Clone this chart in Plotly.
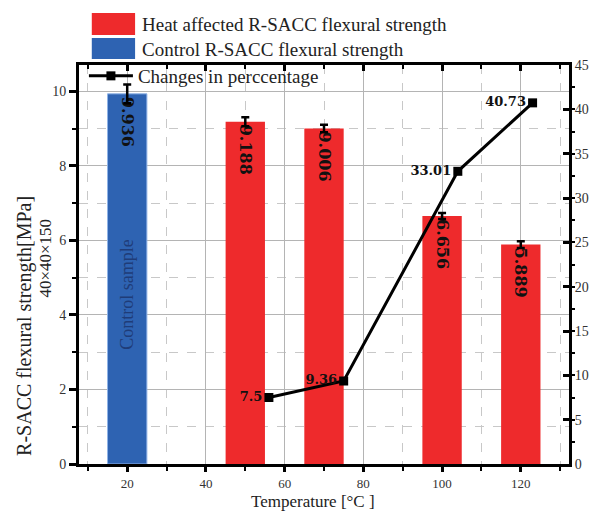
import plotly.graph_objects as go

# ---------------- data ----------------
control_temp = [20]
control_strength = [9.936]
control_err = [0.25]

heat_temp = [50, 70, 100, 120]
heat_strength = [9.188, 9.006, 6.656, 5.889]
heat_err = [0.12, 0.10, 0.08, 0.09]

pct_temp = [56, 75, 104, 123]
pct_change = [7.5, 9.36, 33.01, 40.73]
pct_labels = ["7.5", "9.36", "33.01", "40.73"]

x_ticks = [20, 40, 60, 80, 100, 120]
y_left_ticks = [0, 2, 4, 6, 8, 10]
y_right_ticks = [0, 5, 10, 15, 20, 25, 30, 35, 40, 45]

# ---------------- layout geometry (pixels) ----------------
W, H = 601, 511
L, R, T, B = 79, 577, 65, 464


def px_x(px):
    return (px - L) / (R - L)


def px_y(py):
    return (B - py) / (B - T)


SERIF = "Liberation Serif, Times New Roman, serif"
WIDE_SERIF = "DejaVu Serif, serif"
RED = "#EE2A2C"
BLUE = "#2E63B2"

fig = go.Figure()

fig.add_trace(go.Bar(
    x=control_temp, y=control_strength, width=10,
    marker=dict(color=BLUE, line=dict(color="#8FB3E6", width=1)),
    error_y=dict(type="data", array=control_err, color="black", thickness=2.5, width=4),
    texttemplate="<b>%{y:.3f}</b>", textposition="inside", insidetextanchor="end",
    textangle=90, insidetextfont=dict(family=WIDE_SERIF, size=16, color="#111"),
    showlegend=False, name="Control R-SACC flexural strength",
))

fig.add_trace(go.Bar(
    x=heat_temp, y=heat_strength, width=10,
    marker=dict(color=RED, line=dict(width=0)),
    error_y=dict(type="data", array=heat_err, color="black", thickness=2.5, width=4),
    texttemplate="<b>%{y:.3f}</b>", textposition="inside", insidetextanchor="end",
    textangle=90, insidetextfont=dict(family=WIDE_SERIF, size=16, color="#111"),
    showlegend=False, name="Heat affected R-SACC flexural strength",
))

fig.add_trace(go.Scatter(
    x=pct_temp, y=pct_change, yaxis="y2",
    mode="lines+markers+text",
    line=dict(color="black", width=3),
    marker=dict(symbol="square", size=9, color="black"),
    text=["<b>%s</b>" % t for t in pct_labels], textposition="middle left",
    textfont=dict(family=WIDE_SERIF, size=13, color="#111"),
    cliponaxis=False,
    name="Changes in perccentage", legend="legend2",
))

# dummy trace for the top frame axis
fig.add_trace(go.Scatter(x=[], y=[], xaxis="x2", showlegend=False, hoverinfo="skip"))

tickfont = dict(family=SERIF, size=14, color="#333")
xtickfont = dict(family=SERIF, size=13, color="#333")

fig.update_layout(
    width=W, height=H,
    margin=dict(l=L, r=W - R, t=T, b=H - B),
    paper_bgcolor="white", plot_bgcolor="white",
    barmode="overlay",
    font=dict(family=SERIF, color="#222"),
    xaxis=dict(
        range=[7.75, 132.25], tickvals=x_ticks, ticks="outside", ticklen=5,
        tickwidth=3, tickcolor="black", showline=True, linewidth=3, linecolor="black",
        showgrid=True, gridcolor="#b4b4b4", gridwidth=1, zeroline=False,
        tickfont=xtickfont,
        minor=dict(dtick=10, tick0=0, ticks="outside", ticklen=4, tickwidth=2,
                   tickcolor="black", showgrid=True, griddash="dash", gridcolor="#c8c8c8"),
    ),
    xaxis2=dict(
        overlaying="x", side="top", range=[7.75, 132.25], tickvals=x_ticks,
        ticks="inside", ticklen=6, tickwidth=3, tickcolor="black",
        showline=True, linewidth=3, linecolor="black", showticklabels=False,
        showgrid=False, zeroline=False,
        minor=dict(dtick=10, tick0=0, ticks="inside", ticklen=4, tickwidth=2, tickcolor="black"),
    ),
    yaxis=dict(
        range=[0, 10.71], tickvals=y_left_ticks, ticks="outside", ticklen=7,
        tickwidth=3, tickcolor="black", showline=True, linewidth=3, linecolor="black",
        showgrid=True, gridcolor="#b4b4b4", gridwidth=1, zeroline=False,
        tickfont=tickfont,
        minor=dict(dtick=1, tick0=0, ticks="outside", ticklen=4, tickwidth=2,
                   tickcolor="black", showgrid=True, griddash="dash", gridcolor="#c8c8c8"),
    ),
    yaxis2=dict(
        overlaying="y", side="right", range=[0, 45], tickvals=y_right_ticks,
        ticks="inside", ticklen=6, tickwidth=2.5, tickcolor="black",
        showline=True, linewidth=3, linecolor="black", showgrid=False, zeroline=False,
        tickfont=tickfont,
        minor=dict(dtick=2.5, tick0=0, ticks="outside", ticklen=3, tickwidth=2, tickcolor="black"),
    ),
    legend2=dict(
        x=px_x(84), y=px_y(76), xanchor="left", yanchor="middle",
        bgcolor="rgba(0,0,0,0)", borderwidth=0, itemwidth=44,
        font=dict(family=SERIF, size=19, color="#222"),
    ),
    shapes=[
        dict(type="rect", xref="paper", yref="paper",
             x0=px_x(92), x1=px_x(136), y0=px_y(35), y1=px_y(13),
             fillcolor=RED, line=dict(width=0)),
        dict(type="rect", xref="paper", yref="paper",
             x0=px_x(92), x1=px_x(136), y0=px_y(59), y1=px_y(38),
             fillcolor=BLUE, line=dict(width=0)),
    ],
    annotations=[
        dict(text="Heat affected R-SACC flexural strength", xref="paper", yref="paper",
             x=px_x(141), y=px_y(24), xanchor="left", yanchor="middle", showarrow=False,
             font=dict(family=SERIF, size=19, color="#222")),
        dict(text="Control R-SACC flexural strength", xref="paper", yref="paper",
             x=px_x(141), y=px_y(49), xanchor="left", yanchor="middle", showarrow=False,
             font=dict(family=SERIF, size=19, color="#222")),
        dict(text="Control sample", x=20, y=4.55, xref="x", yref="y", textangle=-90,
             showarrow=False, xanchor="center", yanchor="middle",
             font=dict(family=SERIF, size=18, color="#1F3C78")),
        dict(text="R-SACC flexural strength[MPa]", xref="paper", yref="paper",
             x=px_x(23), y=px_y(326), textangle=-90, showarrow=False,
             xanchor="center", yanchor="middle",
             font=dict(family=SERIF, size=20, color="#222")),
        dict(text="40×40×150", xref="paper", yref="paper",
             x=px_x(44), y=px_y(258), textangle=-90, showarrow=False,
             xanchor="center", yanchor="middle",
             font=dict(family=SERIF, size=17, color="#222")),
        dict(text="Temperature [°C ]", xref="paper", yref="paper",
             x=px_x(317), y=px_y(501.5), showarrow=False,
             xanchor="center", yanchor="middle",
             font=dict(family=SERIF, size=17, color="#222")),
    ],
)

fig.write_html("out.html")
